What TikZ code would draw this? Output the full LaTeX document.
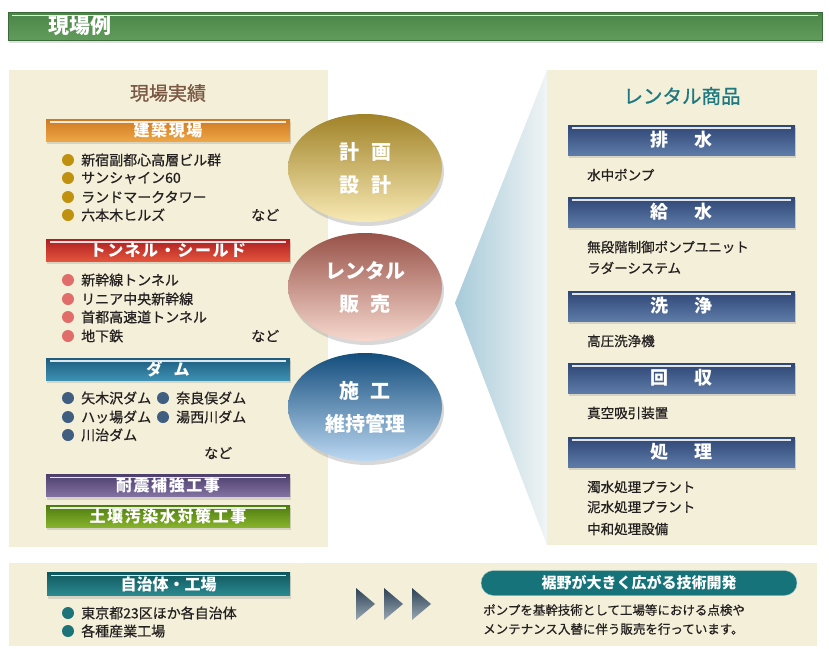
\documentclass[tikz,border=0pt]{standalone}
\usepackage{fontspec}
\setmainfont{Noto Sans CJK JP}
\usepackage{tikz}
\usetikzlibrary{shapes.geometric,shadows}

\definecolor{cream}{HTML}{F3EFD9}
\definecolor{brownhead}{HTML}{7A5843}
\definecolor{tealhead}{HTML}{1E7880}
\definecolor{bulgold}{HTML}{C0900F}
\definecolor{bulred}{HTML}{E06D6A}
\definecolor{bulblue}{HTML}{3F5E80}
\definecolor{bulteal}{HTML}{1D7478}
\definecolor{txtdark}{HTML}{252020}
\definecolor{titletop}{HTML}{4A8647}
\definecolor{titlebot}{HTML}{629C5D}
\definecolor{orgtop}{HTML}{CF7820}
\definecolor{orgbot}{HTML}{EDA646}
\definecolor{redtop}{HTML}{AE1E22}
\definecolor{redbot}{HTML}{E2553A}
\definecolor{damtop}{HTML}{1D5C7E}
\definecolor{dambot}{HTML}{3C90B2}
\definecolor{purtop}{HTML}{4D3F6E}
\definecolor{purbot}{HTML}{8272A2}
\definecolor{grntop}{HTML}{4C7C0E}
\definecolor{grnbot}{HTML}{88B22C}
\definecolor{navytop}{HTML}{2E4675}
\definecolor{navybot}{HTML}{5E7BA8}
\definecolor{locTop}{HTML}{0F575E}
\definecolor{locBot}{HTML}{2B8A90}
\definecolor{goldA}{HTML}{A08228}
\definecolor{goldB}{HTML}{EABF45}
\definecolor{goldC}{HTML}{F8EAB4}
\definecolor{salA}{HTML}{985248}
\definecolor{salB}{HTML}{DE8C7C}
\definecolor{salC}{HTML}{F6D8CE}
\definecolor{bluA}{HTML}{134D7C}
\definecolor{bluB}{HTML}{1C74BC}
\definecolor{bluC}{HTML}{BCD8F2}
\definecolor{fanleft}{HTML}{A7CBDA}
\definecolor{fanright}{HTML}{F0F4F4}
\definecolor{arrtop}{HTML}{2D4255}
\definecolor{arrbot}{HTML}{9AA8B4}
\definecolor{pill}{HTML}{16737A}

\begin{document}
\begin{tikzpicture}[x=1pt,y=-1pt,
  bar/.style={rectangle,inner sep=0pt,minimum width=244pt,minimum height=22pt,
    text=white,font=\fontsize{16}{18}\selectfont\bfseries\addfontfeature{LetterSpace=10},
    drop shadow={opacity=0.25,shadow xshift=1pt,shadow yshift=-3pt},
    path picture={\draw[white,line width=1.4pt,opacity=0.85]
      ([xshift=4pt,yshift=-3pt]path picture bounding box.north west) --
      ([xshift=-4pt,yshift=-3pt]path picture bounding box.north east);}},
  goodsbar/.style={bar,minimum width=227pt,minimum height=30pt,
    top color=navytop,bottom color=navybot,
    font=\fontsize{18}{20}\selectfont\bfseries},
  oval/.style={ellipse,inner sep=0pt,minimum width=154pt,minimum height=108pt,
    align=center,text=white,font=\fontsize{20}{33}\selectfont\bfseries,
    drop shadow={opacity=0.3,shadow xshift=2pt,shadow yshift=-4pt}},
  item/.style={anchor=west,inner sep=0pt,text=txtdark,font=\fontsize{14}{16}\selectfont\addfontfeature{FakeBold=0.6}},
  goods/.style={anchor=west,inner sep=0pt,text=txtdark,font=\fontsize{13.5}{15}\selectfont\addfontfeature{FakeBold=0.8}},
  note/.style={anchor=west,inner sep=0pt,text=txtdark,font=\fontsize{12.5}{14}\selectfont\addfontfeature{FakeBold=0.6}}]

\useasboundingbox (0,0) rectangle (829,648);
\fill[white] (0,0) rectangle (829,648);

% title bar
\node[bar,minimum width=814pt,minimum height=28pt,anchor=north west,
  top color=titletop,bottom color=titlebot,draw=titletop!80!black]
  (titlebar) at (8,12) {};
\node[anchor=west,text=white,font=\fontsize{21}{23}\selectfont\bfseries] (title) at (45,26) {現場例};

% panels
\fill[cream] (9,70) rectangle (328,547);
\shade[left color=fanleft,right color=fanright] (455,303) -- (547,70) -- (547,545) -- cycle;
\fill[cream] (547,70) rectangle (817,545);
\fill[cream] (9,563) rectangle (817,646);

% left column
\node[text=brownhead,font=\fontsize{19}{21}\selectfont\addfontfeature{FakeBold=1}] (works) at (168,93) {現場実績};

\node[bar,top color=orgtop,bottom color=orgbot] (build) at (168,130) {建築現場};
\fill[bulgold] (68,160) circle (6);
\fill[bulgold] (68,178) circle (6);
\fill[bulgold] (68,197) circle (6);
\fill[bulgold] (68,215) circle (6);
\node[item] (b1) at (81,160) {新宿副都心高層ビル群};
\node[item] (b2) at (81,178) {サンシャイン60};
\node[item] (b3) at (81,197) {ランドマークタワー};
\node[item] (b4) at (81,215) {六本木ヒルズ};
\node[item] (b5) at (251,215) {など};

\node[bar,top color=redtop,bottom color=redbot] (tunnel) at (168,250) {トンネル・シールド};
\fill[bulred] (68,280) circle (6);
\fill[bulred] (68,299) circle (6);
\fill[bulred] (68,317) circle (6);
\fill[bulred] (68,336) circle (6);
\node[item] (t1) at (81,280) {新幹線トンネル};
\node[item] (t2) at (81,299) {リニア中央新幹線};
\node[item] (t3) at (81,317) {首都高速道トンネル};
\node[item] (t4) at (81,336) {地下鉄};
\node[item] (t5) at (251,336) {など};

\node[bar,top color=damtop,bottom color=dambot] (dam) at (168,369) {ダ\hspace{0.7em}ム};
\fill[bulblue] (68,398) circle (6);
\fill[bulblue] (68,417) circle (6);
\fill[bulblue] (68,435) circle (6);
\fill[bulblue] (163,398) circle (6);
\fill[bulblue] (163,417) circle (6);
\node[item] (d1) at (81,398) {矢木沢ダム};
\node[item] (d2) at (81,417) {ハッ場ダム};
\node[item] (d3) at (81,435) {川治ダム};
\node[item] (d4) at (176,398) {奈良俣ダム};
\node[item] (d5) at (176,417) {湯西川ダム};
\node[item] (d6) at (204,453) {など};

\node[bar,top color=purtop,bottom color=purbot] (quake) at (168,485.5) {耐震補強工事};
\node[bar,top color=grntop,bottom color=grnbot] (soil) at (168,516) {土壌汚染水対策工事};

% middle ovals
\node[oval,top color=goldA,middle color=goldB,bottom color=goldC]
  (plan) at (365,168) {計\hspace{0.6em}画\\設\hspace{0.6em}計};
\node[oval,top color=salA,middle color=salB,bottom color=salC]
  (rent) at (365,287) {レンタル\\販\hspace{0.6em}売};
\node[oval,top color=bluA,middle color=bluB,bottom color=bluC]
  (keep) at (365,407) {施\hspace{0.6em}工\\維持管理};

% right column
\node[text=tealhead,font=\fontsize{19.5}{21}\selectfont\addfontfeature{FakeBold=1}] (goodshead) at (682,96) {レンタル商品};

\node[goodsbar] (drain) at (681.5,140) {排\hspace{1.4em}水};
\node[goods] (g1) at (587,175) {水中ポンプ};

\node[goodsbar] (supply) at (681.5,212) {給\hspace{1.4em}水};
\node[goods] (g2) at (587,247) {無段階制御ポンプユニット};
\node[goods] (g3) at (587,268) {ラダーシステム};

\node[goodsbar] (wash) at (681.5,306) {洗\hspace{1.4em}浄};
\node[goods] (g4) at (587,341) {高圧洗浄機};

\node[goodsbar] (collect) at (681.5,378) {回\hspace{1.4em}収};
\node[goods] (g5) at (587,413) {真空吸引装置};

\node[goodsbar] (treat) at (681.5,452) {処\hspace{1.4em}理};
\node[goods] (g6) at (587,487) {濁水処理プラント};
\node[goods] (g7) at (587,507) {泥水処理プラント};
\node[goods] (g8) at (587,529) {中和処理設備};

% bottom row
\node[bar,minimum width=243pt,minimum height=23pt,top color=locTop,bottom color=locBot,
  font=\fontsize{16}{18}\selectfont\bfseries] (local) at (168.5,584) {自治体・工場};
\fill[bulteal] (68,613) circle (6);
\fill[bulteal] (68,631) circle (6);
\node[item] (l1) at (81,613) {東京都23区ほか各自治体};
\node[item] (l2) at (81,631) {各種産業工場};

\shade[top color=arrtop,bottom color=arrbot] (356,588) -- (375,604) -- (356,620) -- cycle;
\shade[top color=arrtop,bottom color=arrbot] (384,588) -- (403,604) -- (384,620) -- cycle;
\shade[top color=arrtop,bottom color=arrbot] (412,588) -- (431,604) -- (412,620) -- cycle;

\node[rectangle,rounded corners=12.5pt,minimum width=316pt,minimum height=25pt,inner sep=0pt,
  fill=pill,draw=pill!40!white,text=white,font=\fontsize{15}{17}\selectfont\bfseries]
  (dev) at (639,583) {裾野が大きく広がる技術開発};
\node[note] (n1) at (483,610) {ポンプを基幹技術として工場等における点検や};
\node[note] (n2) at (483,629) {メンテナンス入替に伴う販売を行っています。};
\end{tikzpicture}
\end{document}
